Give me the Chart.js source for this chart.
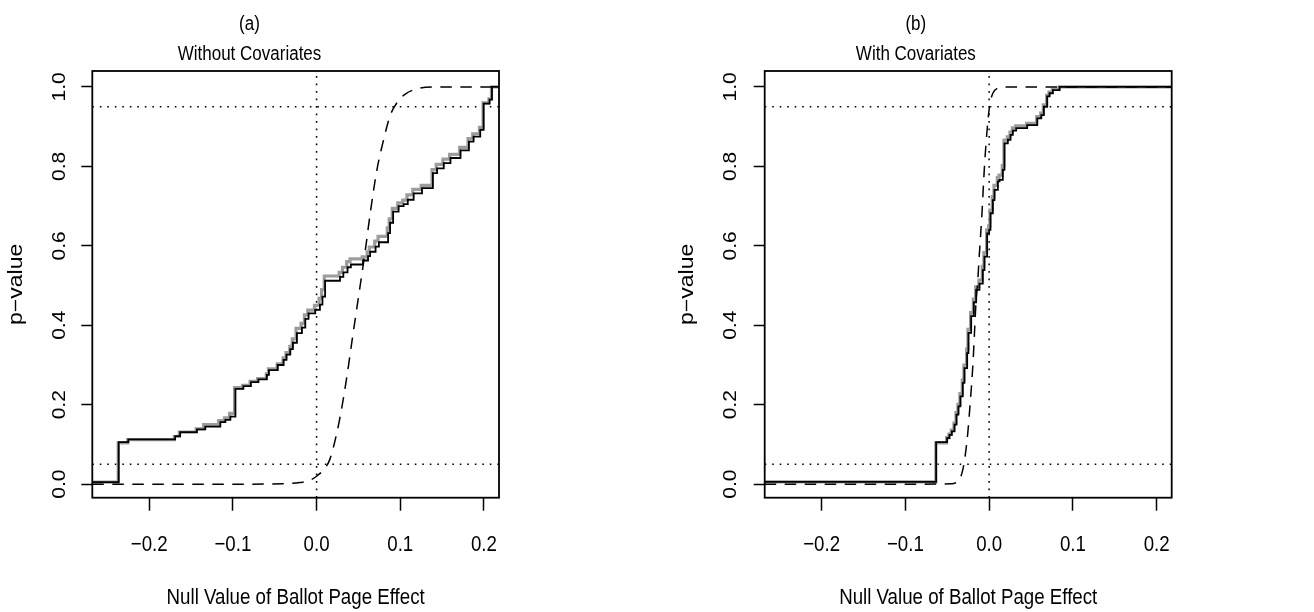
<!DOCTYPE html>
<html lang="en">
<head>
<meta charset="UTF-8">
<title>p-value by null value of ballot page effect</title>
<style>
  body { margin: 0; background: #fff; width: 1314px; height: 612px; position: relative; overflow: hidden; }
  canvas { position: absolute; top: 0; }
  #panelA { left: 0; }
  #panelB { left: 660px; }
</style>
<script src="https://cdn.jsdelivr.net/npm/chart.js"></script>
</head>
<body>
<canvas id="panelA" width="504" height="612"></canvas>
<canvas id="panelB" width="530" height="612"></canvas>
<script>
// axis ranges and ticks
const xLimits = [-0.268, 0.218];
const yLimits = [-0.034, 1.04];
const xTicks = [-0.2, -0.1, 0.0, 0.1, 0.2];
const yTicks = [0, 0.2, 0.4, 0.6, 0.8, 1.0];
const refLevels = [0.05, 0.95];
const nullEffect = 0;

// (a) without covariates: [null value, p-value] at each jump
const blackA = [
  [-0.268, 0.005], [-0.2365, 0.106], [-0.2250, 0.113], [-0.1690, 0.121], [-0.1630, 0.131],
  [-0.1430, 0.138], [-0.1330, 0.145], [-0.1150, 0.156], [-0.1090, 0.162], [-0.1030, 0.170],
  [-0.0970, 0.240], [-0.0875, 0.247], [-0.0785, 0.257], [-0.0695, 0.264], [-0.0595, 0.275],
  [-0.0570, 0.287], [-0.0465, 0.300], [-0.0395, 0.313], [-0.0360, 0.326], [-0.0315, 0.340],
  [-0.0283, 0.356], [-0.0235, 0.380], [-0.0175, 0.394], [-0.0135, 0.416], [-0.0096, 0.430],
  [-0.0016, 0.439], [0.0040, 0.452], [0.0070, 0.472], [0.0102, 0.512], [0.0280, 0.522],
  [0.0320, 0.533], [0.0370, 0.546], [0.0410, 0.553], [0.0555, 0.563], [0.0615, 0.574],
  [0.0640, 0.585], [0.0705, 0.598], [0.0745, 0.609], [0.0855, 0.632], [0.0878, 0.658],
  [0.0915, 0.686], [0.0980, 0.700], [0.1040, 0.705], [0.1090, 0.716], [0.1160, 0.732],
  [0.1260, 0.745], [0.1390, 0.783], [0.1440, 0.795], [0.1520, 0.808], [0.1600, 0.821],
  [0.1720, 0.840], [0.1820, 0.862], [0.1876, 0.875], [0.1956, 0.892], [0.1996, 0.958],
  [0.2067, 0.968], [0.2096, 1.000], [0.218, 1.000]
];
const grayA = [
  [-0.268, 0.005], [-0.2370, 0.104], [-0.2255, 0.112], [-0.1700, 0.120], [-0.1640, 0.131],
  [-0.1440, 0.139], [-0.1350, 0.150], [-0.1170, 0.160], [-0.1100, 0.167], [-0.1040, 0.178],
  [-0.0980, 0.243], [-0.0885, 0.249], [-0.0795, 0.259], [-0.0705, 0.266], [-0.0600, 0.278],
  [-0.0575, 0.290], [-0.0470, 0.303], [-0.0400, 0.318], [-0.0365, 0.331], [-0.0320, 0.347],
  [-0.0290, 0.366], [-0.0245, 0.392], [-0.0185, 0.405], [-0.0145, 0.426], [-0.0105, 0.438],
  [-0.0025, 0.450], [0.0030, 0.468], [0.0060, 0.490], [0.0092, 0.524], [0.0270, 0.533],
  [0.0310, 0.546], [0.0360, 0.560], [0.0400, 0.567], [0.0545, 0.572], [0.0605, 0.585],
  [0.0630, 0.597], [0.0695, 0.612], [0.0735, 0.624], [0.0845, 0.645], [0.0868, 0.668],
  [0.0905, 0.694], [0.0970, 0.708], [0.1030, 0.715], [0.1080, 0.728], [0.1150, 0.742],
  [0.1250, 0.752], [0.1380, 0.792], [0.1430, 0.805], [0.1510, 0.818], [0.1590, 0.830],
  [0.1710, 0.848], [0.1810, 0.870], [0.1866, 0.882], [0.1946, 0.898], [0.1990, 0.960],
  [0.2060, 0.970], [0.2090, 1.000], [0.218, 1.000]
];
const curveA = [
  [-0.268, 0.000], [-0.100, 0.000], [-0.040, 0.001], [-0.020, 0.004], [-0.010, 0.008],
  [0.000, 0.020], [0.010, 0.040], [0.015, 0.058], [0.020, 0.092], [0.028, 0.168],
  [0.036, 0.268], [0.043, 0.370], [0.050, 0.470], [0.058, 0.585], [0.064, 0.680],
  [0.072, 0.790], [0.080, 0.866], [0.088, 0.928], [0.096, 0.960], [0.106, 0.982],
  [0.124, 0.997], [0.140, 1.000], [0.218, 1.000]
];

// (b) with covariates
const blackB = [
  [-0.268, 0.006], [-0.0633, 0.106], [-0.0502, 0.116], [-0.0474, 0.124], [-0.0446, 0.133],
  [-0.0414, 0.150], [-0.0390, 0.175], [-0.0367, 0.196], [-0.0343, 0.221], [-0.0315, 0.255],
  [-0.0295, 0.292], [-0.0263, 0.330], [-0.0247, 0.381], [-0.0215, 0.423], [-0.0183, 0.458],
  [-0.0155, 0.489], [-0.0116, 0.505], [-0.0076, 0.539], [-0.0056, 0.573], [-0.0024, 0.631],
  [0.0000, 0.640], [0.0016, 0.682], [0.0044, 0.715], [0.0064, 0.741], [0.0104, 0.762],
  [0.0124, 0.766], [0.0163, 0.791], [0.0183, 0.858], [0.0223, 0.867], [0.0255, 0.879],
  [0.0283, 0.890], [0.0323, 0.896], [0.0454, 0.904], [0.0574, 0.921], [0.0622, 0.929],
  [0.0653, 0.950], [0.0693, 0.976], [0.0721, 0.984], [0.0761, 0.992], [0.0841, 1.000],
  [0.218, 1.000]
];
const grayB = [
  [-0.268, 0.006], [-0.0636, 0.104], [-0.0508, 0.117], [-0.0480, 0.126], [-0.0452, 0.136],
  [-0.0420, 0.154], [-0.0396, 0.180], [-0.0373, 0.201], [-0.0349, 0.228], [-0.0321, 0.262],
  [-0.0301, 0.300], [-0.0269, 0.340], [-0.0253, 0.390], [-0.0221, 0.432], [-0.0189, 0.466],
  [-0.0161, 0.497], [-0.0122, 0.514], [-0.0082, 0.548], [-0.0062, 0.583], [-0.0030, 0.640],
  [-0.0006, 0.650], [0.0010, 0.690], [0.0038, 0.724], [0.0058, 0.752], [0.0098, 0.772],
  [0.0118, 0.778], [0.0157, 0.802], [0.0177, 0.866], [0.0217, 0.874], [0.0249, 0.886],
  [0.0277, 0.897], [0.0317, 0.902], [0.0448, 0.908], [0.0568, 0.925], [0.0616, 0.934],
  [0.0647, 0.955], [0.0687, 0.979], [0.0715, 0.987], [0.0755, 0.994], [0.0835, 1.000],
  [0.218, 1.000]
];
const curveB = [
  [-0.268, 0.000], [-0.100, 0.000], [-0.045, 0.001], [-0.0394, 0.004], [-0.0355, 0.011],
  [-0.0315, 0.036], [-0.0287, 0.070], [-0.0255, 0.129], [-0.0223, 0.213], [-0.0195, 0.297],
  [-0.0175, 0.381], [-0.0155, 0.465], [-0.0140, 0.500], [-0.0116, 0.581], [-0.0088, 0.673],
  [-0.0056, 0.799], [-0.0024, 0.892], [0.0004, 0.950], [0.0044, 0.984], [0.0104, 0.997],
  [0.0200, 1.000], [0.218, 1.000]
];

Chart.defaults.font.family = "'Liberation Sans', Arial, sans-serif";
Chart.defaults.color = '#000';

// lettering is set narrow: squeeze every glyph run horizontally (in page space)
// around the point it is anchored to
const SQUEEZE_X = 0.85;
const plainFillText = CanvasRenderingContext2D.prototype.fillText;
CanvasRenderingContext2D.prototype.fillText = function (text, x, y, maxWidth) {
  const m = this.getTransform();
  const p = m.transformPoint(new DOMPoint(x, y));
  this.save();
  this.setTransform(new DOMMatrix().translate(p.x, p.y).scale(SQUEEZE_X, 1).translate(-p.x, -p.y).multiply(m));
  if (maxWidth === undefined) plainFillText.call(this, text, x, y);
  else plainFillText.call(this, text, x, y, maxWidth);
  this.restore();
};

const fmt = v => v.toFixed(1).replace('-', '\u2212');
const toPts = arr => arr.map(([x, y]) => ({ x, y }));

// frame around the plotting region
const plotBox = {
  id: 'plotBox',
  afterDraw(chart) {
    const { ctx, chartArea: a } = chart;
    ctx.save();
    ctx.strokeStyle = '#000';
    ctx.lineWidth = 1.8;
    ctx.strokeRect(a.left, a.top, a.right - a.left, a.bottom - a.top);
    ctx.restore();
  }
};

const dotted = data => ({
  data, borderColor: '#000', borderWidth: 1.5, borderDash: [1.6, 5.9]
});

function buildPanel(canvasId, p) {
  return new Chart(document.getElementById(canvasId), {
    type: 'line',
    data: {
      datasets: [
        { data: toPts(p.black), borderColor: '#000', borderWidth: 1.8, stepped: 'before' },
        { data: toPts(p.curve), borderColor: '#000', borderWidth: 1.5, borderDash: [11.5, 8.5],
          cubicInterpolationMode: 'monotone' },
        { data: toPts(p.gray), borderColor: '#9c9c9c', borderWidth: 3.2, stepped: 'before' },
        ...refLevels.map(v => dotted([{ x: xLimits[0], y: v }, { x: xLimits[1], y: v }])),
        dotted([{ x: nullEffect, y: yLimits[0] }, { x: nullEffect, y: yLimits[1] }])
      ]
    },
    options: {
      responsive: false,
      animation: false,
      devicePixelRatio: 1,
      layout: { padding: { left: 0, right: p.padRight, top: 0, bottom: 0 } },
      elements: { point: { radius: 0 }, line: { fill: false, tension: 0 } },
      plugins: {
        legend: { display: false },
        tooltip: { enabled: false },
        title: { display: true, text: p.tag, color: '#000',
          font: { size: 20, weight: 'normal' }, padding: { top: 12, bottom: 0 } },
        subtitle: { display: true, text: p.title, color: '#000',
          font: { size: 20, weight: 'normal' }, padding: { top: 6, bottom: 5 } }
      },
      scales: {
        x: {
          type: 'linear', min: xLimits[0], max: xLimits[1],
          afterBuildTicks: s => { s.ticks = xTicks.map(v => ({ value: v })); },
          afterFit: s => { s.height = 114.3; s.paddingLeft = 0; s.paddingRight = 0; },
          grid: { drawOnChartArea: false, tickLength: 13, tickColor: '#000', tickWidth: 1.5 },
          border: { display: false },
          ticks: { autoSkip: false, maxRotation: 0, padding: 21, font: { size: 22 }, color: '#000',
            callback: v => fmt(v) },
          title: { display: true, text: 'Null Value of Ballot Page Effect', color: '#000',
            font: { size: 22 }, padding: { top: 0, bottom: 1 } }
        },
        y: {
          type: 'linear', min: yLimits[0], max: yLimits[1],
          afterBuildTicks: s => { s.ticks = yTicks.map(v => ({ value: v })); },
          afterFit: s => { s.width = p.axisWidth; s.paddingTop = 0; s.paddingBottom = 0; },
          grid: { drawOnChartArea: false, tickLength: 11, tickColor: '#000', tickWidth: 1.5 },
          border: { display: false },
          ticks: { autoSkip: false, minRotation: 90, maxRotation: 90, crossAlign: 'center',
            padding: p.tickPad, font: { size: 21 }, color: '#000', callback: v => fmt(v) },
          title: { display: true, text: 'p\u2212value', color: '#000',
            font: { size: 23 }, padding: { top: p.titlePad, bottom: 0 } }
        }
      }
    },
    plugins: [plotBox]
  });
}

buildPanel('panelA', {
  tag: '(a)', title: 'Without Covariates',
  black: blackA, gray: grayA, curve: curveA,
  axisWidth: 92.3, padRight: 5, tickPad: 6.7, titlePad: 3
});
buildPanel('panelB', {
  tag: '(b)', title: 'With Covariates',
  black: blackB, gray: grayB, curve: curveB,
  axisWidth: 104.7, padRight: 18.3, tickPad: 8.4, titlePad: 14
});
</script>
</body>
</html>
